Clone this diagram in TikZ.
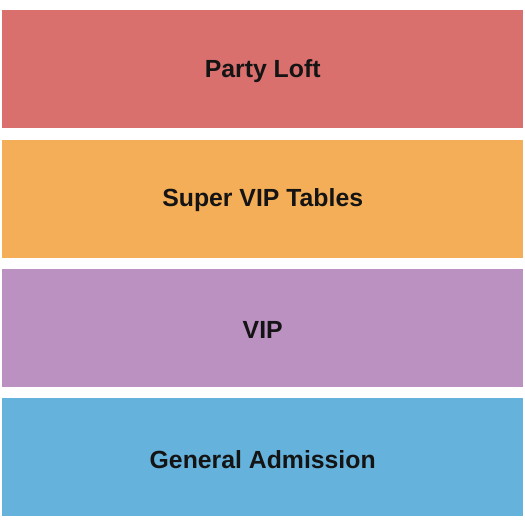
\documentclass[tikz,border=0pt]{standalone}
\usepackage{fontspec}
\setmainfont{Liberation Sans}
\usepackage{tikz}
\usetikzlibrary{positioning}
\definecolor{loft-re}{HTML}{D9706E}
\definecolor{super-or}{HTML}{F4AE57}
\definecolor{vip-pu}{HTML}{BB91C2}
\definecolor{ga-bl}{HTML}{65B3DC}
\tikzstyle{a}=[anchor=north west]
\tikzstyle{section}=[a,rectangle,minimum width=521pt,minimum height=118pt,inner sep=0pt]
\tikzstyle{sectext}=[font=\fontsize{24.8}{28}\selectfont\bfseries,text=black!92,yshift=-1.8pt]

\begin{document}
\begin{tikzpicture}[x=1pt,y=-1pt]
  \useasboundingbox (0,0) rectangle (525,525);

  % Sections, top to bottom
  \node [section,fill=loft-re,label={[sectext]center:Party Loft}] (loft) at (2,10) {};
  \node [section,fill=super-or,label={[sectext]center:Super VIP Tables},below=11pt of loft.south west,a] (super) {};
  \node [section,fill=vip-pu,label={[sectext]center:VIP},below=11pt of super.south west,a] (vip) {};
  \node [section,fill=ga-bl,label={[sectext]center:General Admission},below=11pt of vip.south west,a] (ga) {};
\end{tikzpicture}
\end{document}
